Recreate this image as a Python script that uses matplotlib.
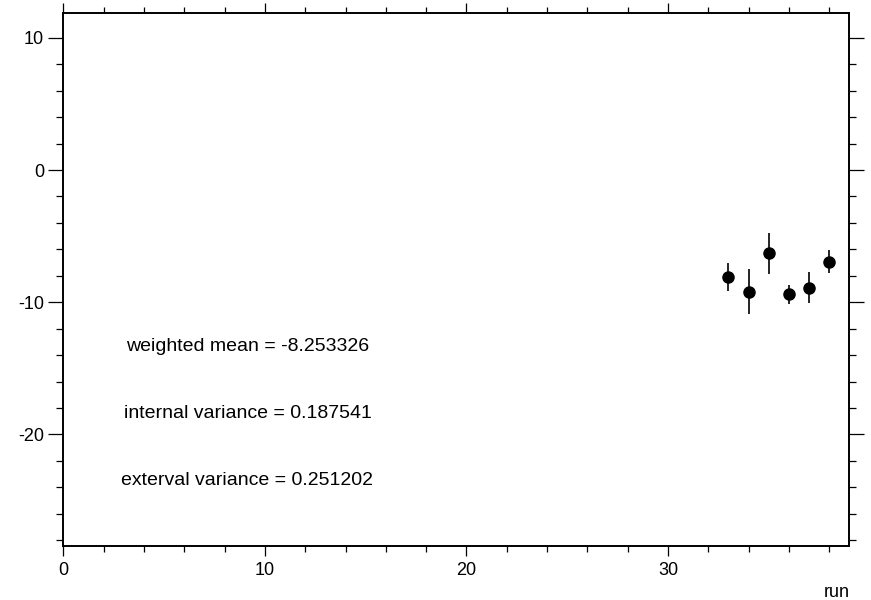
import matplotlib
matplotlib.use('Agg')
import matplotlib.pyplot as plt
from matplotlib.ticker import MultipleLocator

plt.rcParams['font.family'] = ['Liberation Sans', 'DejaVu Sans']
plt.rcParams['axes.unicode_minus'] = False

# data
runs = [33, 34, 35, 36, 37, 38]
values = [-8.09, -9.19, -6.30, -9.41, -8.89, -6.93]
errors = [1.06, 1.72, 1.54, 0.75, 1.16, 0.88]

stats_labels = ['weighted mean = -8.253326',
                'internal variance = 0.187541',
                'exterval variance = 0.251202']
stats_y = [-13.36, -18.4, -23.5]

fig = plt.figure(figsize=(8.71, 6.0), dpi=100)
ax = fig.add_axes([0.0729, 0.0905, 0.9751 - 0.0729, (600 - 13) / 600 - 0.0905])

ax.errorbar(runs, values, yerr=errors, fmt='o', color='black',
            markersize=8, elinewidth=1.2, capsize=0)

for label, y in zip(stats_labels, stats_y):
    ax.text(9.13, y, label, ha='center', va='center', fontsize=14)

ax.set_xlim(0, 39)
ax.set_ylim(-28.42, 11.88)

ax.xaxis.set_major_locator(MultipleLocator(10))
ax.xaxis.set_minor_locator(MultipleLocator(2))
ax.yaxis.set_major_locator(MultipleLocator(10))
ax.yaxis.set_minor_locator(MultipleLocator(2))

ax.tick_params(axis='x', which='major', direction='out', length=7.5, width=0.9,
               top=True, labeltop=False, labelsize=13, pad=4)
ax.tick_params(axis='x', which='minor', direction='out', length=4, width=0.9, top=True)
ax.tick_params(axis='y', which='major', direction='out', length=11, width=0.9,
               right=True, labelright=False, labelsize=13, pad=3)
ax.tick_params(axis='y', which='minor', direction='out', length=5, width=0.9, right=True)

for s in ax.spines.values():
    s.set_linewidth(1.4)

ax.set_xlabel('run', loc='right', fontsize=13, labelpad=4)

fig.savefig('out.png', dpi=100)
